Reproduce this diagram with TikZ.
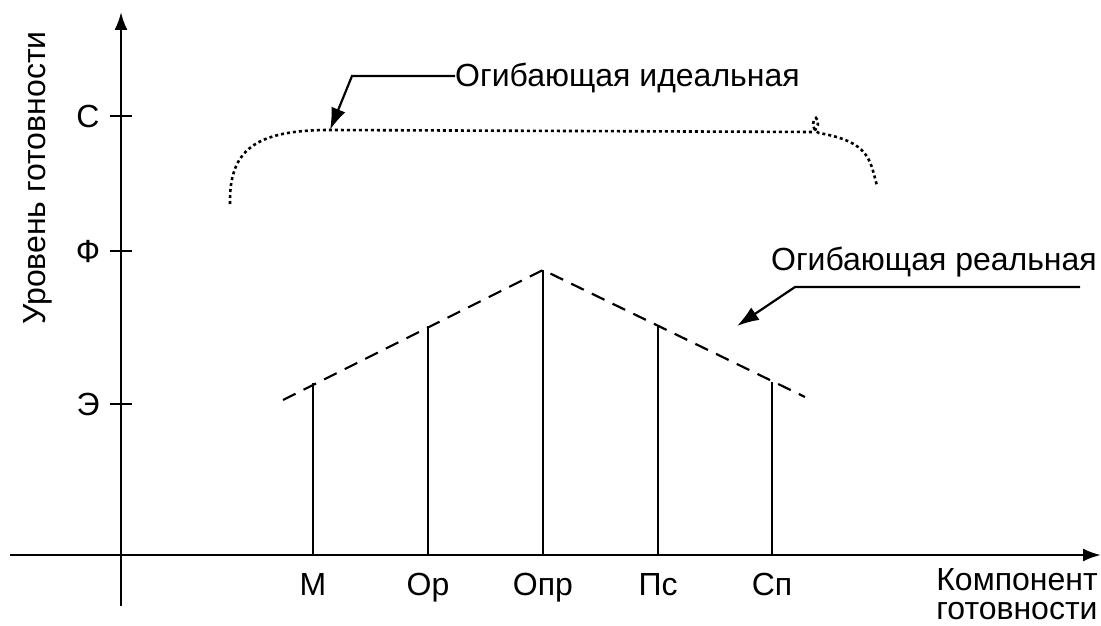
\documentclass[tikz,border=0pt]{standalone}
\usepackage{fontspec}
\setmainfont{Liberation Sans}
\usetikzlibrary{arrows.meta}
\begin{document}
\begin{tikzpicture}[x=1pt,y=-1pt,
  lbl/.style={font=\fontsize{32}{34}\selectfont, inner sep=0pt},
  axis/.style={line width=2.4pt},
  bar/.style={line width=2.2pt},
  envreal/.style={line width=2.2pt, dash pattern=on 14pt off 9pt},
  envideal/.style={line width=2.6pt, dash pattern=on 3pt off 3pt},
  callout/.style={line width=2.2pt},
  tip/.style={-{Latex[length=22pt,width=15pt]}}]
\useasboundingbox (0,0) rectangle (1101,626);
% axes
\coordinate (yb) at (121,606);
\coordinate (yt) at (121,12);
\coordinate (xl) at (10,555);
\coordinate (xr) at (1101,555);
\draw[axis, -{Latex[length=18pt,width=13pt]}] (yb) -- (yt);
\draw[axis, -{Latex[length=18pt,width=13pt]}] (xl) -- (xr);
% ticks
\foreach \n/\y/\t in {c/116/С, f/251/Ф, e/404/Э}{
  \coordinate (tl\n) at (110,\y);
  \coordinate (tr\n) at (132,\y);
  \draw[line width=2pt] (tl\n) -- (tr\n);
  \node[lbl] (lab\n) at (88,\y) {\t};
}
\node[lbl, rotate=90] (ylab) at (38,178) {Уровень готовности};
\node[lbl, anchor=base] (xlab1) at (1017,590) {Компонент};
\node[lbl, anchor=base] (xlab2) at (1017,619) {готовности};
% bars
\foreach \n/\x/\y/\t in {m/313/383/М, op/428/326/Ор, opr/543/270/Опр, ps/658/325/Пс, sp/772/382/Сп}{
  \coordinate (b\n) at (\x,555);
  \coordinate (t\n) at (\x,\y);
  \draw[bar] (b\n) -- (t\n);
  \node[lbl, anchor=base] (l\n) at (\x,595) {\t};
}
% real envelope
\coordinate (r1) at (283,400);
\coordinate (topr) at (543,270);
\coordinate (r3) at (805,397);
\draw[envreal] (r1) -- (topr) -- (r3);
% ideal envelope
\coordinate (i1) at (230,204);
\coordinate (i2) at (330,130);
\coordinate (i3) at (812,132);
\coordinate (i4) at (877,186);
\draw[envideal] (i1) .. controls (229,150) and (255,130) .. (i2)
  -- (i3) .. controls (818,130) and (820,120) .. (816,118)
  .. controls (812,120) and (811,130) .. (819,133)
  .. controls (870,142) and (870,160) .. (i4);
% callouts
\node[lbl, anchor=base west] (nid) at (455,87) {Огибающая идеальная};
\coordinate (cid) at (352,76);
\coordinate (cid0) at (455,76);
\draw[callout, tip] (cid0) -- (cid) -- (i2);
\node[lbl, anchor=base east] (nre) at (1097,270) {Огибающая реальная};
\coordinate (cre1) at (1080,287);
\coordinate (cre2) at (795,287);
\coordinate (cre3) at (737,326);
\draw[callout, tip] (cre1) -- (cre2) -- (cre3);
\end{tikzpicture}
\end{document}
